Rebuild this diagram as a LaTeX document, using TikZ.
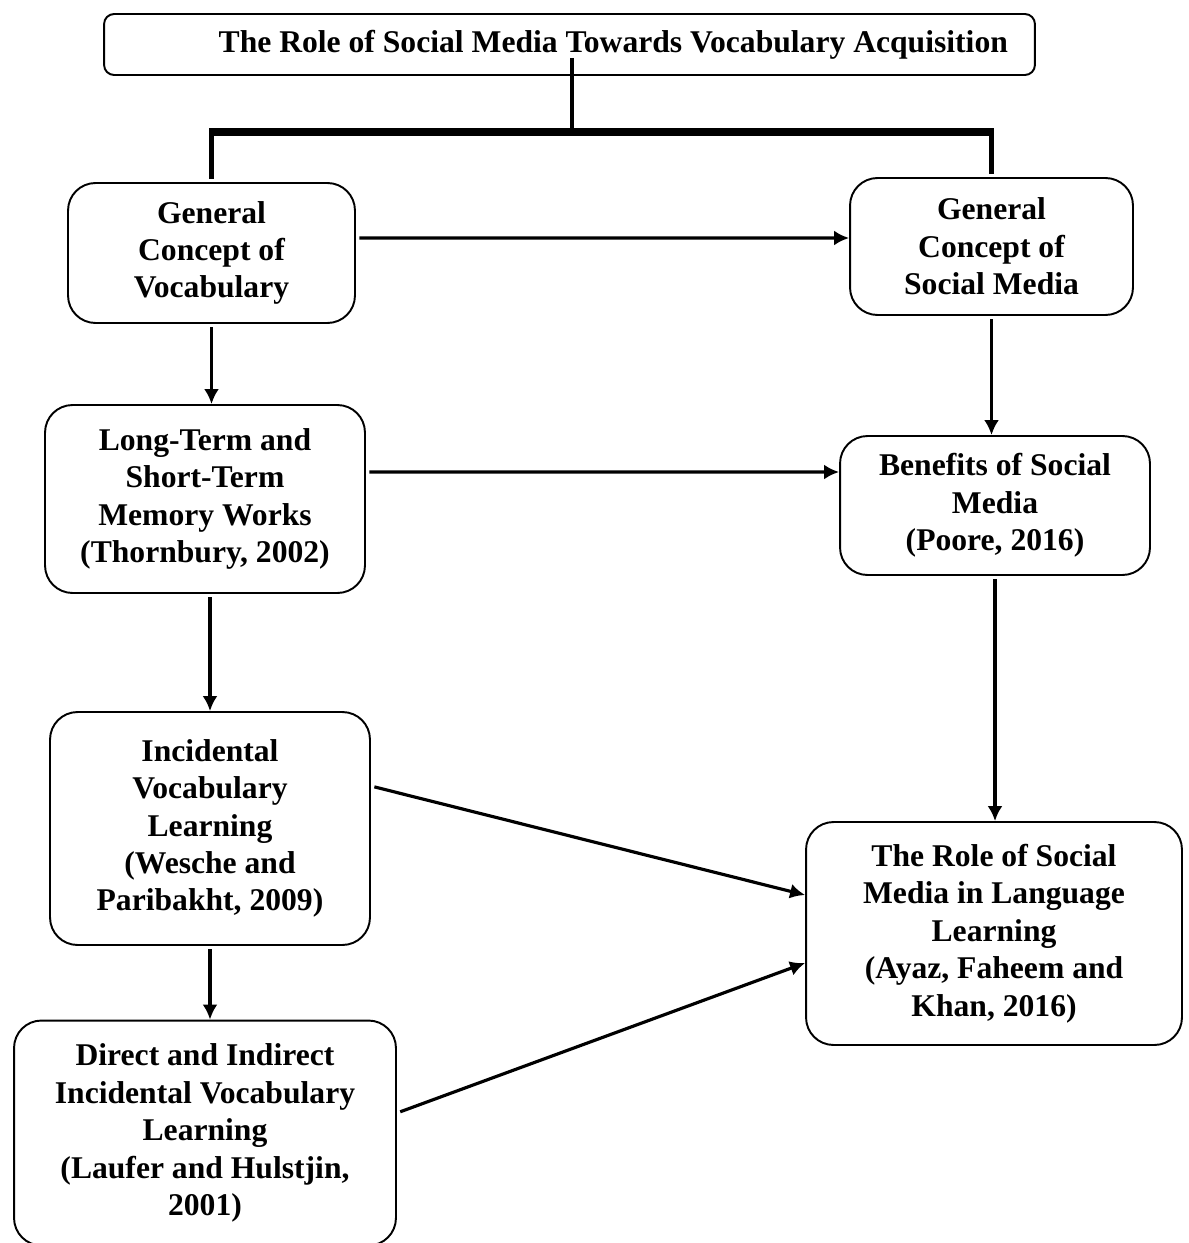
\documentclass[tikz,border=0pt]{standalone}
\usepackage{fontspec}
\setmainfont{Liberation Serif}
\usepackage{tikz}
\usetikzlibrary{arrows.meta}

\begin{document}
\begin{tikzpicture}[x=0.02cm,y=-0.02cm]

\tikzset{box/.style = {shape=rectangle,draw,line width=1.1pt,rounded corners=0.55cm,align=center,
  font=\bfseries\fontsize{18}{21.3}\selectfont,inner sep=0pt}}
\tikzset{edge/.style = {->,> = {Latex[length=0.3cm,width=0.3cm]},line width=1.8pt,shorten <=2pt}}
\tikzset{trunk/.style = {line width=2.6pt}}
\useasboundingbox (0,0) rectangle (1188,1243);

% title
\node[box,rounded corners=0.2cm,minimum width=18.62cm,minimum height=1.22cm,text width=17.54cm,align=flush right]
  (title) at (569.5,44.5) {The Role of Social Media Towards Vocabulary Acquisition};

% left column
\node[box,minimum width=5.74cm,minimum height=2.8cm] (gcv) at (211.5,253) {General\\Concept of\\Vocabulary};
\node[box,minimum width=6.4cm,minimum height=3.76cm] (ltm) at (205,499) {Long-Term and\\Short-Term\\Memory Works\\(Thornbury, 2002)};
\node[box,minimum width=6.4cm,minimum height=4.66cm] (inc) at (210,828.5) {Incidental\\Vocabulary\\Learning\\(Wesche and\\Paribakht, 2009)};
\node[box,minimum width=7.64cm,minimum height=4.5cm] (dil) at (205,1133) {Direct and Indirect\\Incidental Vocabulary\\Learning\\(Laufer and Hulstjin,\\2001)};

% right column
\node[box,minimum width=5.66cm,minimum height=2.74cm] (gcs) at (991.5,246.5) {General\\Concept of\\Social Media};
\node[box,minimum width=6.2cm,minimum height=2.78cm] (ben) at (995,505.5) {Benefits of Social\\Media\\(Poore, 2016)};
\node[box,minimum width=7.52cm,minimum height=4.46cm] (rol) at (994,933.5) {The Role of Social\\Media in Language\\Learning\\(Ayaz, Faheem and\\Khan, 2016)};

% top split
\coordinate (split) at (572,132);
\coordinate (stem) at (572,58);
\draw[trunk] (stem) -- (split);
\draw[line width=4.5pt] ([xshift=-1.3pt]gcv.north |- split) -- ([xshift=1.3pt]gcs.north |- split);
\draw[trunk] (gcv.north |- split) -- ([yshift=0.06cm]gcv.north);
\draw[trunk] (gcs.north |- split) -- ([yshift=0.06cm]gcs.north);

% edges
\draw[edge] ([yshift=0.3cm]gcv.east) -- ([yshift=0.17cm]gcs.west);
\draw[edge] ([yshift=0.54cm]ltm.east) -- ([yshift=0.67cm]ben.west);
\draw[edge] ([yshift=0.85cm]inc.east) -- ([yshift=0.77cm]rol.west);
\draw[edge] ([yshift=0.4cm]dil.east) -- ([yshift=-0.59cm]rol.west);
\draw[edge] (gcv.south) -- (gcv.south |- ltm.north);
\draw[edge] (ltm.south -| inc.north) -- (inc.north);
\draw[edge] (inc.south) -- (inc.south |- dil.north);
\draw[edge] (gcs.south) -- (gcs.south |- ben.north);
\draw[edge] (ben.south) -- (ben.south |- rol.north);
\end{tikzpicture}
\end{document}
